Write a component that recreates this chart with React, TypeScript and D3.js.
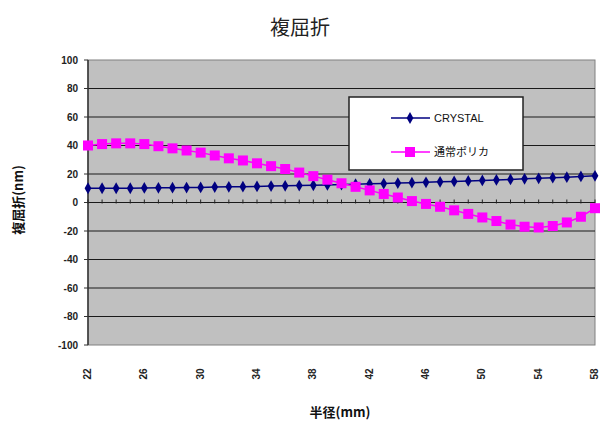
import React from "react";
import * as d3 from "d3";

// Radius positions (mm), one per measurement
const radii: number[] = d3.range(22, 59, 1);
// Radii that carry an axis label
const radiusLabels: number[] = [22, 26, 30, 34, 38, 42, 46, 50, 54, 58];

const crystal: number[] = [
  10, 10, 10, 10, 10.2, 10.3, 10.4, 10.5, 10.6, 10.8, 11, 11.1, 11.3, 11.5, 11.7,
  11.9, 12.1, 12.3, 12.6, 12.8, 13.1, 13.3, 13.6, 13.9, 14.2, 14.5, 14.8, 15.1,
  15.5, 15.8, 16.2, 16.6, 17, 17.4, 17.8, 18.3, 18.7,
];

const polycarbonate: number[] = [
  40, 41, 41.5, 41.5, 41, 39.5, 38, 36.5, 35, 33, 31, 29.5, 27.5, 25.5, 23.5, 21,
  18.5, 16, 13.5, 11, 8.5, 6, 3.5, 1, -1, -3, -5.5, -8, -10.5, -13, -15.5, -17,
  -17.5, -16.5, -14, -10, -4,
];

const yTicks: number[] = d3.range(-100, 101, 20);

const seriesNames = ["CRYSTAL", "通常ポリカ"];

const W = 602;
const H = 425;
const plot = { left: 88, right: 595, top: 60, bottom: 345 };

export default function App() {
  const x = d3
    .scalePoint<number>()
    .domain(radii)
    .range([plot.left, plot.right]);
  const y = d3.scaleLinear().domain([-100, 100]).range([plot.bottom, plot.top]);

  const line = d3
    .line<number>()
    .x((_, i) => x(radii[i]) as number)
    .y((d) => y(d));

  const font = "'Liberation Sans', Arial, sans-serif";
  const jpFont = "'Noto Sans CJK JP', 'Liberation Sans', sans-serif";
  const diamond = d3.symbol(d3.symbolDiamond, 40)() as string;
  const sq = 10;

  return (
    <div style={{ position: "absolute", left: 0, top: 0 }}>
      <svg width={W} height={H} style={{ display: "block", background: "#fff" }}>
        {/* title */}
        <text
          x={300}
          y={35}
          textAnchor="middle"
          fontFamily={jpFont}
          fontSize={20}
          fill="#222"
        >
          複屈折
        </text>

        {/* plot area */}
        <rect
          x={plot.left}
          y={plot.top}
          width={plot.right - plot.left}
          height={plot.bottom - plot.top}
          fill="#c0c0c0"
          stroke="#808080"
          strokeWidth={1}
        />

        {/* horizontal gridlines */}
        {yTicks.map((t) =>
          t === -100 || t === 100 ? null : (
            <line
              key={`g${t}`}
              x1={plot.left}
              x2={plot.right}
              y1={y(t)}
              y2={y(t)}
              stroke="#1a1a1a"
              strokeWidth={1.2}
            />
          )
        )}

        {/* value axis */}
        <line
          x1={plot.left}
          x2={plot.left}
          y1={plot.top}
          y2={plot.bottom}
          stroke="#333"
          strokeWidth={1.5}
        />
        {yTicks.map((t) => (
          <g key={`yt${t}`}>
            <line
              x1={plot.left - 4}
              x2={plot.left}
              y1={y(t)}
              y2={y(t)}
              stroke="#333"
            />
            <text
              x={78}
              y={y(t)}
              dy="0.35em"
              textAnchor="end"
              fontFamily={font}
              fontSize={10}
              fontWeight="bold"
              fill="#222"
            >
              {t}
            </text>
          </g>
        ))}

        {/* category axis crossing at zero, with a tick at each radius */}
        {radii.map((r) => (
          <line
            key={`xt${r}`}
            x1={x(r) as number}
            x2={x(r) as number}
            y1={y(0) - 3}
            y2={y(0) + 1}
            stroke="#222"
            strokeWidth={1}
          />
        ))}

        {/* series lines */}
        <path d={line(crystal) as string} fill="none" stroke="#000080" strokeWidth={1.5} />
        <path d={line(polycarbonate) as string} fill="none" stroke="#ff00ff" strokeWidth={1.5} />

        {crystal.map((v, i) => (
          <path
            key={`c${i}`}
            d={diamond}
            transform={`translate(${x(radii[i])},${y(v)})`}
            fill="#000080"
          />
        ))}
        {polycarbonate.map((v, i) => (
          <rect
            key={`p${i}`}
            x={(x(radii[i]) as number) - sq / 2}
            y={y(v) - sq / 2}
            width={sq}
            height={sq}
            fill="#ff00ff"
          />
        ))}

        {/* radius labels */}
        {radiusLabels.map((r) => (
          <text
            key={`xl${r}`}
            transform={`translate(${(x(r) as number) + 3},374) rotate(-90)`}
            textAnchor="middle"
            fontFamily={font}
            fontSize={10}
            fontWeight="bold"
            fill="#222"
          >
            {r}
          </text>
        ))}

        {/* axis titles */}
        <text
          x={340}
          y={417}
          textAnchor="middle"
          fontFamily={jpFont}
          fontSize={13}
          fontWeight="bold"
          fill="#111"
        >
          半径(mm)
        </text>
        <text
          transform="translate(23,200) rotate(-90)"
          textAnchor="middle"
          fontFamily={jpFont}
          fontSize={13}
          fontWeight="bold"
          fill="#111"
        >
          複屈折(nm)
        </text>

        {/* legend */}
        <rect x={349} y={97} width={174} height={73} fill="#fff" stroke="#222" strokeWidth={1.5} />
        <line x1={391} x2={430} y1={118} y2={118} stroke="#000080" strokeWidth={1.5} />
        <path d={diamond} transform="translate(410,118)" fill="#000080" />
        <text x={434} y={118} dy="0.35em" fontFamily={font} fontSize={11} fill="#111">
          {seriesNames[0]}
        </text>
        <line x1={391} x2={430} y1={152} y2={152} stroke="#ff00ff" strokeWidth={1.5} />
        <rect x={410 - sq / 2} y={152 - sq / 2} width={sq} height={sq} fill="#ff00ff" />
        <text x={434} y={152} dy="0.35em" fontFamily={jpFont} fontSize={11} fill="#111">
          {seriesNames[1]}
        </text>
      </svg>
    </div>
  );
}
